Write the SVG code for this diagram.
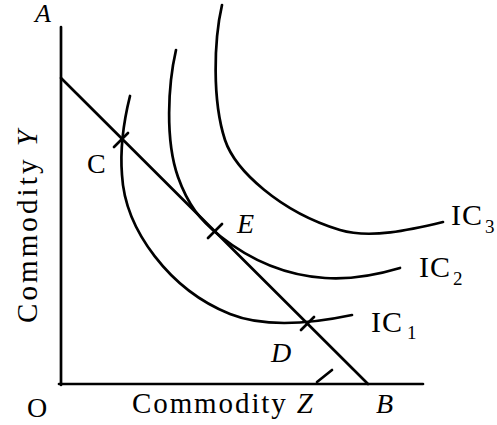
<svg xmlns="http://www.w3.org/2000/svg" width="497" height="425" viewBox="0 0 497 425">
<style>
.ln{fill:none;stroke:#000;stroke-width:2.7;stroke-linecap:round}
.t{font-family:"Liberation Serif","Times New Roman",serif;fill:#000}
.it{font-style:italic}
</style>
<rect width="497" height="425" fill="#fff"/>
<g id="axes">
<path class="ln" d="M61,27 L61,385"/>
<path class="ln" d="M59,384 L423,384"/>
</g>
<g id="budget-line">
<path class="ln" d="M61,78 L368,384"/>
</g>
<g id="curves">
<path id="ic1" class="ln" d="M130,96 C124,120 120,150 122,175 C125,230 170,290 230,314 C260,326 300,326 352,315"/>
<path id="ic2" class="ln" d="M176,50 C168,85 165,140 178,177 C188,205 200,220 220,236 C245,256 280,275 325,278 C355,280 380,274 400,268"/>
<path id="ic3" class="ln" d="M222,5 C214,40 212,100 225,140 C235,170 280,212 340,230 C370,239 410,230 443,222"/>
</g>
<g id="marks">
<path class="ln" d="M114,147 L128,133"/>
<path class="ln" d="M208,238 L222,224"/>
<path class="ln" d="M301,330 L314,317"/>
<path class="ln" stroke-width="1.5" d="M317,382 L332,370"/>
</g>
<g id="labels">
<text class="t it" x="35" y="22" font-size="26">A</text>
<text class="t" x="87" y="173" font-size="28">C</text>
<text class="t it" x="237" y="233" font-size="28">E</text>
<text class="t it" x="271" y="362" font-size="28">D</text>
<text class="t it" x="376" y="413" font-size="28">B</text>
<text class="t" x="27" y="417" font-size="28">O</text>
<text class="t" x="132" y="413" font-size="29" textLength="181" lengthAdjust="spacing">Commodity <tspan class="it">Z</tspan></text>
<text class="t" transform="translate(37,323) rotate(-90)" x="0" y="0" font-size="29" textLength="193" lengthAdjust="spacing">Commodity <tspan class="it">Y</tspan></text>
<text class="t" x="451" y="225" font-size="30" letter-spacing="1">IC<tspan x="485" y="233" font-size="19">3</tspan></text>
<text class="t" x="419" y="277" font-size="30" letter-spacing="1">IC<tspan x="453" y="285" font-size="19">2</tspan></text>
<text class="t" x="371" y="332" font-size="30" letter-spacing="1">IC<tspan x="407" y="339" font-size="19">1</tspan></text>
</g>
</svg>
